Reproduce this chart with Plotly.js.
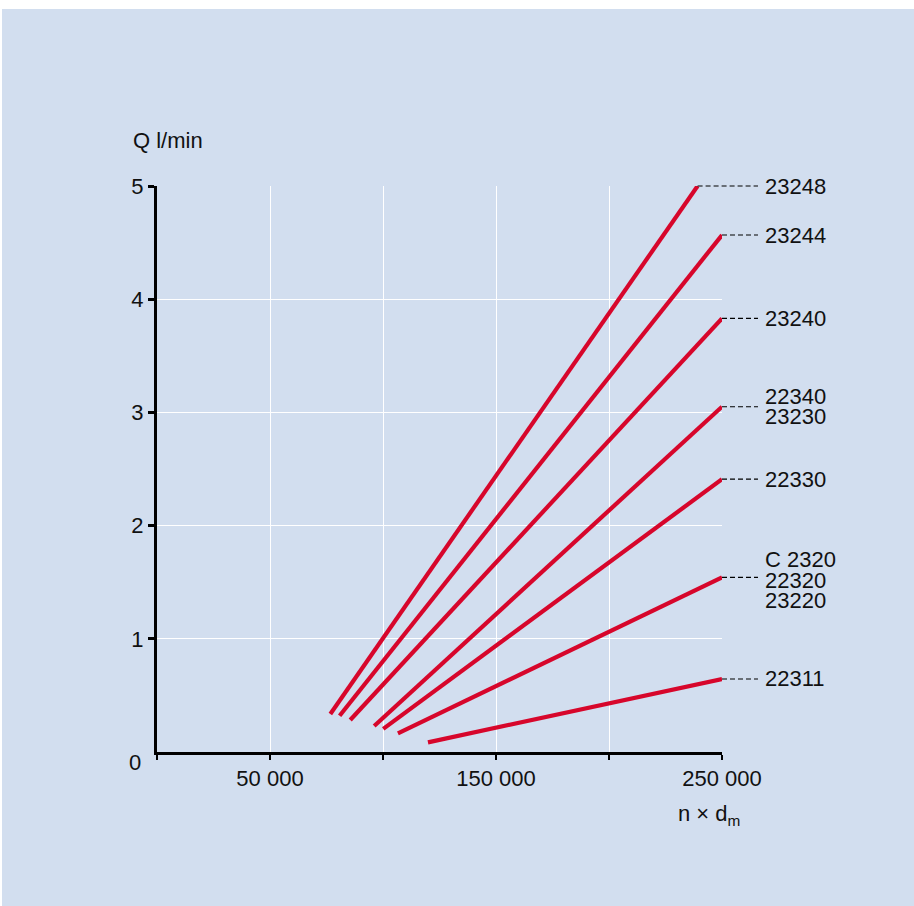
<!DOCTYPE html>
<html>
<head>
<meta charset="utf-8">
<script src="https://cdn.plot.ly/plotly-3.0.1.min.js"></script>
<style>
  html, body { margin: 0; padding: 0; background: #ffffff; }
  #chart { position: absolute; left: 2px; top: 9px; width: 912px; height: 897px; }
</style>
</head>
<body>
<div id="chart"></div>
<script>
// Bearing series (label lines, one entry per line)
const seriesLabels = [
  ['23248'],
  ['23244'],
  ['23240'],
  ['22340', '23230'],
  ['22330'],
  ['C 2320', '22320', '23220'],
  ['22311']
];
const xStart = [76700, 80800, 85500, 96100, 100100, 106600, 119900];
const yStart = [0.336, 0.320, 0.283, 0.230, 0.204, 0.165, 0.085];
const xEnd   = [239200, 250000, 250000, 250000, 250000, 250000, 250000];
const yEnd   = [5.00, 4.567, 3.83, 3.05, 2.41, 1.543, 0.645];

const xTickVals = [50000, 150000, 250000];
const xTickText = ['50 000', '150 000', '250 000'];
const xMinorTickVals = [0, 100000, 200000];
const yTickVals = [1, 2, 3, 4, 5];
const yTickText = ['1', '2', '3', '4', '5'];

const X_MAX = 250000, Y_MAX = 5;
const RED = '#d7062b';
const FONT = 'Liberation Sans, Arial, Helvetica, sans-serif';
const FS = 22;

const traces = seriesLabels.map((lab, i) => ({
  type: 'scatter',
  mode: 'lines',
  x: [xStart[i], xEnd[i]],
  y: [yStart[i], yEnd[i]],
  line: { color: RED, width: 4.2 },
  name: lab.join(' / '),
  hoverinfo: 'skip'
}));

const shapes = [];
const annotations = [];
const DASH_END = 1.0637;   // paper x where leader ends
const LABEL_X = 1.0726;    // paper x where labels start
const LINE_GAP = 20.5;     // px between stacked label lines

seriesLabels.forEach((lab, i) => {
  const py = yEnd[i] / Y_MAX;
  shapes.push({
    type: 'line', xref: 'paper', yref: 'paper',
    x0: xEnd[i] / X_MAX, x1: DASH_END, y0: py, y1: py,
    line: { color: '#000', width: 1.2, dash: '5px,3px' }
  });
  const n = lab.length;
  lab.forEach((t, k) => {
    annotations.push({
      xref: 'paper', yref: 'paper', x: LABEL_X, y: py,
      xanchor: 'left', yanchor: 'middle',
      yshift: -((k - (n - 1) / 2) * LINE_GAP) + (n === 3 ? -3 : 0),
      text: t, showarrow: false,
      font: { family: FONT, size: FS, color: '#111' }
    });
  });
});

annotations.push({
  xref: 'paper', yref: 'paper', x: -0.046, y: 1.081,
  xanchor: 'left', yanchor: 'middle', text: 'Q l/min', showarrow: false,
  font: { family: FONT, size: FS, color: '#111' }
});
annotations.push({
  xref: 'paper', yref: 'paper', x: 0.9186, y: -0.111,
  xanchor: 'left', yanchor: 'middle', text: 'n × d<sub>m</sub>', showarrow: false,
  font: { family: FONT, size: FS, color: '#111' }
});
annotations.push({
  xref: 'paper', yref: 'paper', x: -0.039, y: -0.019,
  xanchor: 'center', yanchor: 'middle', text: '0', showarrow: false,
  font: { family: FONT, size: FS, color: '#111' }
});

const layout = {
  width: 912, height: 897, autosize: false,
  paper_bgcolor: '#d2deef', plot_bgcolor: '#d2deef',
  margin: { l: 155, r: 192, t: 177, b: 154 },
  showlegend: false,
  font: { family: FONT, size: FS, color: '#111' },
  xaxis: {
    range: [0, X_MAX], tickmode: 'array', tickvals: xTickVals, ticktext: xTickText,
    showgrid: true, gridcolor: '#ffffff', gridwidth: 1,
    zeroline: false, showline: true, linecolor: '#000', linewidth: 3,
    ticks: 'outside', ticklen: 5, tickwidth: 2, tickcolor: '#000',
    tickfont: { family: FONT, size: FS, color: '#111' },
    minor: {
      tickmode: 'array', tickvals: xMinorTickVals,
      ticks: 'outside', ticklen: 5, tickwidth: 2, tickcolor: '#000',
      showgrid: true, gridcolor: '#ffffff', gridwidth: 1
    },
    fixedrange: true
  },
  yaxis: {
    range: [0, Y_MAX], tickmode: 'array', tickvals: yTickVals, ticktext: yTickText,
    showgrid: true, gridcolor: '#ffffff', gridwidth: 1,
    zeroline: false, showline: true, linecolor: '#000', linewidth: 3,
    ticks: 'outside', ticklen: 6, tickwidth: 3, tickcolor: '#000',
    tickfont: { family: FONT, size: FS, color: '#111' },
    fixedrange: true
  },
  shapes: shapes,
  annotations: annotations
};

Plotly.newPlot('chart', traces, layout, { displayModeBar: false, staticPlot: true });
</script>
</body>
</html>
